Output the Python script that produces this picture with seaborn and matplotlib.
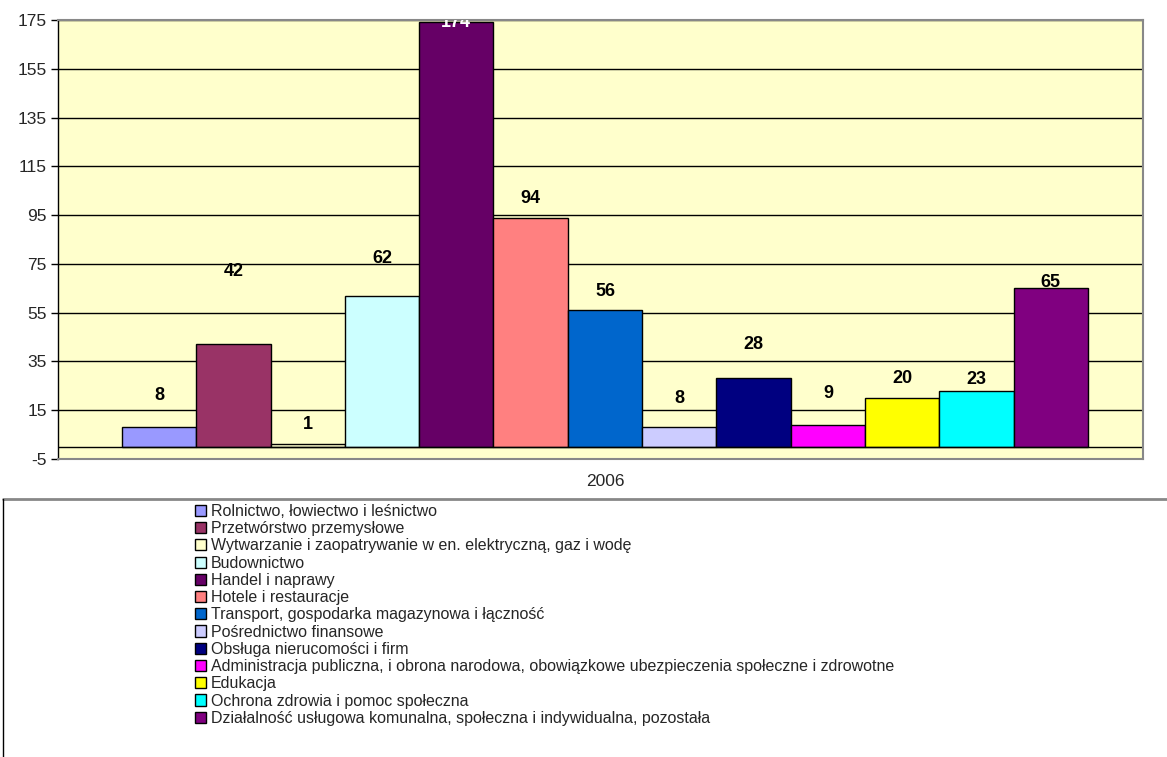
import pandas as pd
import matplotlib
matplotlib.use('Agg')
import matplotlib.pyplot as plt
from matplotlib.lines import Line2D
import seaborn as sns

sectors = [
    'Rolnictwo, łowiectwo i leśnictwo',
    'Przetwórstwo przemysłowe',
    'Wytwarzanie i zaopatrywanie w en. elektryczną, gaz i wodę',
    'Budownictwo',
    'Handel i naprawy',
    'Hotele i restauracje',
    'Transport, gospodarka magazynowa i łączność',
    'Pośrednictwo finansowe',
    'Obsługa nierucomości i firm',
    'Administracja publiczna, i obrona narodowa, obowiązkowe ubezpieczenia społeczne i zdrowotne',
    'Edukacja',
    'Ochrona zdrowia i pomoc społeczna',
    'Działalność usługowa komunalna, społeczna i indywidualna, pozostała',
]
values = [8, 42, 1, 62, 174, 94, 56, 8, 28, 9, 20, 23, 65]
colors = ['#9999FF', '#993366', '#FFFFCC', '#CCFFFF', '#660066', '#FF8080', '#0066CC',
          '#CCCCFF', '#000080', '#FF00FF', '#FFFF00', '#00FFFF', '#800080']
year = '2006'
y_ticks = list(range(-5, 176, 20))
# how far above each bar the value label sits
label_offsets = [13, 30, 8, 15, 1, 8, 7.5, 11.7, 13.8, 13, 8, 4.4, 2.5]

df = pd.DataFrame({'sector': sectors, 'value': values})

sns.set_style('white')
plt.rcParams['font.family'] = ['Liberation Sans', 'DejaVu Sans']
plt.rcParams['axes.unicode_minus'] = False

fig = plt.figure(figsize=(11.67, 7.57), dpi=100)
ax = fig.add_axes([0.0497, 0.3937, 0.9297, 0.5799])
ax.set_facecolor('#FFFFCC')

sns.barplot(data=df, x='sector', y='value', hue='sector', palette=colors, saturation=1,
            width=1, edgecolor='black', linewidth=1, legend=True, ax=ax)

ax.set_ylim(-5, 175)
ax.set_xlim(-1.36, 13.24)
ax.set_yticks(y_ticks)
ax.yaxis.grid(True, color='black', linewidth=1)
ax.set_axisbelow(True)
ax.axhline(0, color='black', linewidth=1, zorder=1)
ax.tick_params(axis='y', left=True, length=5, width=1, color='black', labelsize=12.5, pad=3)
ax.set_xticks([6])
ax.set_xticklabels([year])
ax.tick_params(axis='x', length=0, labelsize=12.5, pad=11)
ax.set_xlabel('')
ax.set_ylabel('')

for side in ['top', 'right', 'bottom']:
    ax.spines[side].set_color('#888888')
    ax.spines[side].set_linewidth(1.5)
ax.spines['left'].set_color('black')
ax.spines['left'].set_linewidth(1)

for i, v in enumerate(values):
    if v == max(values):
        # top label sits inside the bar, cut off by the plot edge
        ax.text(i, v, str(v), ha='center', va='center', fontsize=13,
                fontweight='bold', color='white', clip_on=True)
    else:
        ax.text(i, v + label_offsets[i], str(v), ha='center', va='center',
                fontsize=13, fontweight='bold', color='black')

# legend box below the plot
handles, labels = ax.get_legend_handles_labels()
ax.get_legend().remove()
fig.legend(handles, labels, loc='upper left', bbox_to_anchor=(195 / 1167, 1 - 504 / 757),
           frameon=False, fontsize=11.5, handlelength=0.7, handleheight=0.7,
           handletextpad=0.3, labelspacing=0.14, borderpad=0, borderaxespad=0)
fig.add_artist(Line2D([3 / 1167, 1], [1 - 499 / 757] * 2, color='#888888', linewidth=2))
fig.add_artist(Line2D([3 / 1167] * 2, [0, 1 - 499 / 757], color='black', linewidth=1))

fig.savefig('out.png', dpi=100)
